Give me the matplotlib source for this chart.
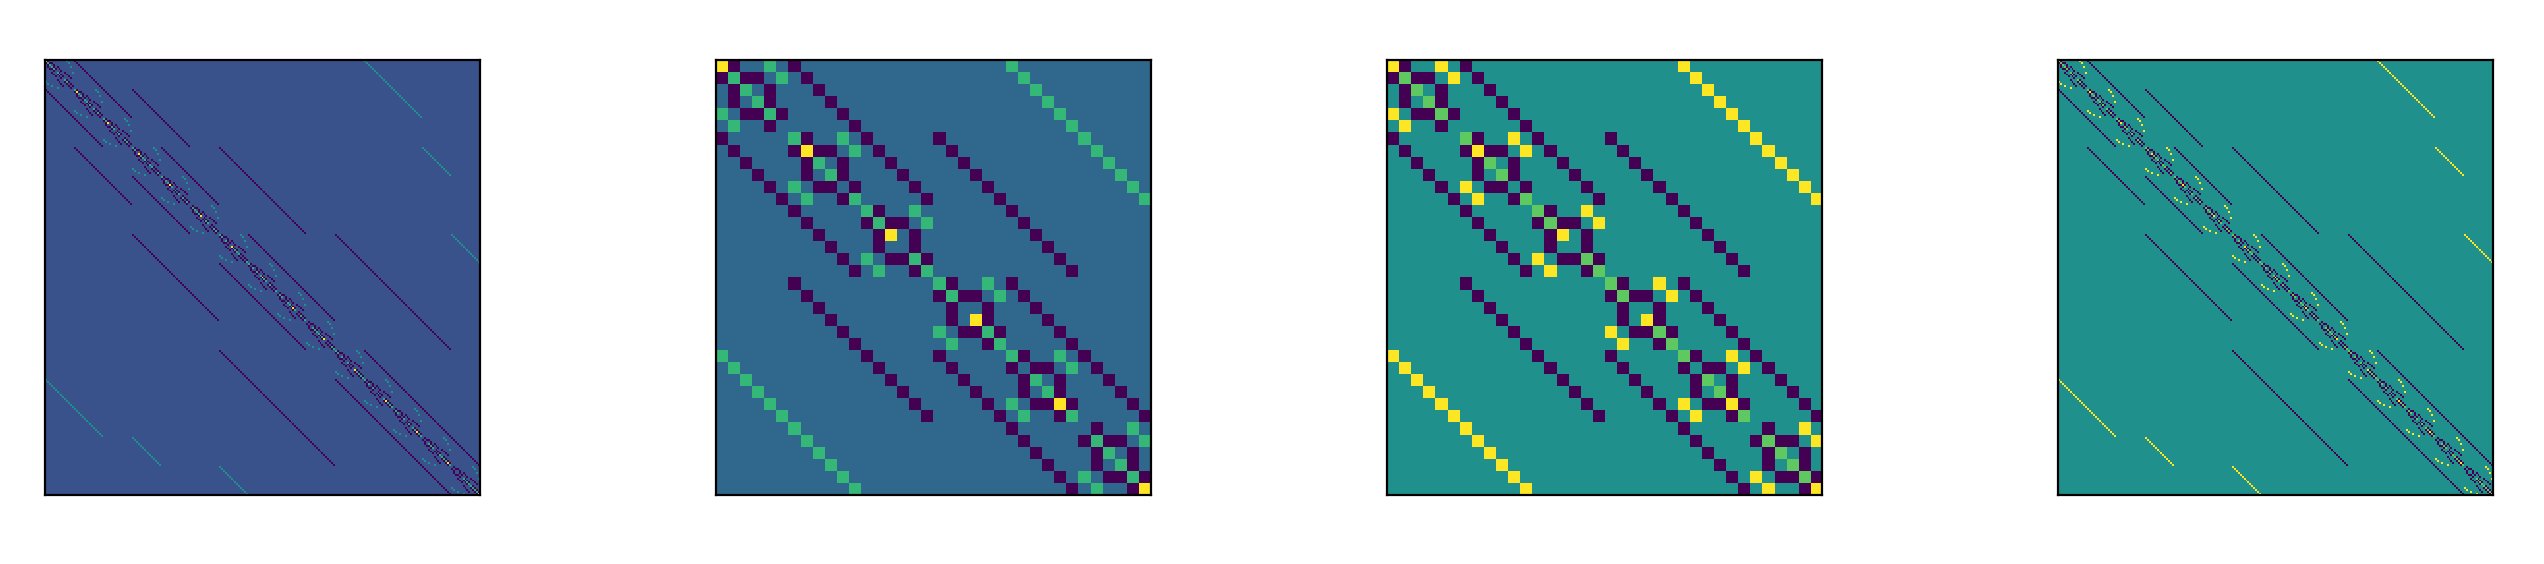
import numpy as np
import matplotlib
matplotlib.use("Agg")
import matplotlib.pyplot as plt

# Off-diagonal terms: (row, col) inside one spin block
small_minus = [(0, 1), (1, 2), (1, 3), (2, 4), (3, 4), (4, 5)]
small_plus = [(0, 4), (1, 5)]
large_minus = [(0, 1), (1, 2), (1, 3), (2, 4), (3, 4), (4, 5), (3, 6), (4, 7), (5, 8),
               (6, 7), (7, 8), (8, 9), (6, 10), (7, 11), (8, 12), (9, 13),
               (10, 11), (11, 12), (12, 13), (13, 14)]
large_plus = [(0, 11), (1, 12), (3, 13), (6, 14)]

# Diagonal occupancy: one string per block of the matrix
small_diag = ["211110", "121101", "112011", "110211", "101121", "011112"]
large_diag = [
    "211110110011000",
    "121101101010100",
    "112011011001100",
    "110211100110010",
    "101121010101010",
    "011112001100110",
    "110100211110001",
    "101010121101001",
    "011001112100101",
    "000111111200011",
    "110100100021111",
    "101010010012111",
    "011001001011211",
    "000111000111121",
    "000000111111112",
]

# Diagonal scale and colour range of each panel
panel_u = [1.5, 1.0, 0.5, 0.5]
panel_vmax = [3, 2, 1, 1]
panel_left_px = [45, 716, 1387, 2058]


def build(minus, plus, diag_rows, u):
    n = len(diag_rows)
    t = np.zeros((n, n))
    for i, j in minus:
        t[i, j] = t[j, i] = -1
    for i, j in plus:
        t[i, j] = t[j, i] = 1
    d = np.array([[int(c) for c in row] for row in diag_rows], float) * u
    return np.kron(t, np.eye(n)) + np.kron(np.eye(n), t) + np.diag(d.ravel())


mats = [build(large_minus, large_plus, large_diag, panel_u[0]),
        build(small_minus, small_plus, small_diag, panel_u[1]),
        build(small_minus, small_plus, small_diag, panel_u[2]),
        build(large_minus, large_plus, large_diag, panel_u[3])]

W, H = 2544, 564
fig = plt.figure(figsize=(W / 200, H / 200), dpi=200)
for m, left, vmax in zip(mats, panel_left_px, panel_vmax):
    ax = fig.add_axes([left / W, 1 - 495 / H, 435 / W, 435 / H])
    ax.imshow(m, cmap="viridis", vmin=-1, vmax=vmax, interpolation="nearest")
    ax.set_xticks([])
    ax.set_yticks([])
fig.savefig("out.png", dpi=200)
